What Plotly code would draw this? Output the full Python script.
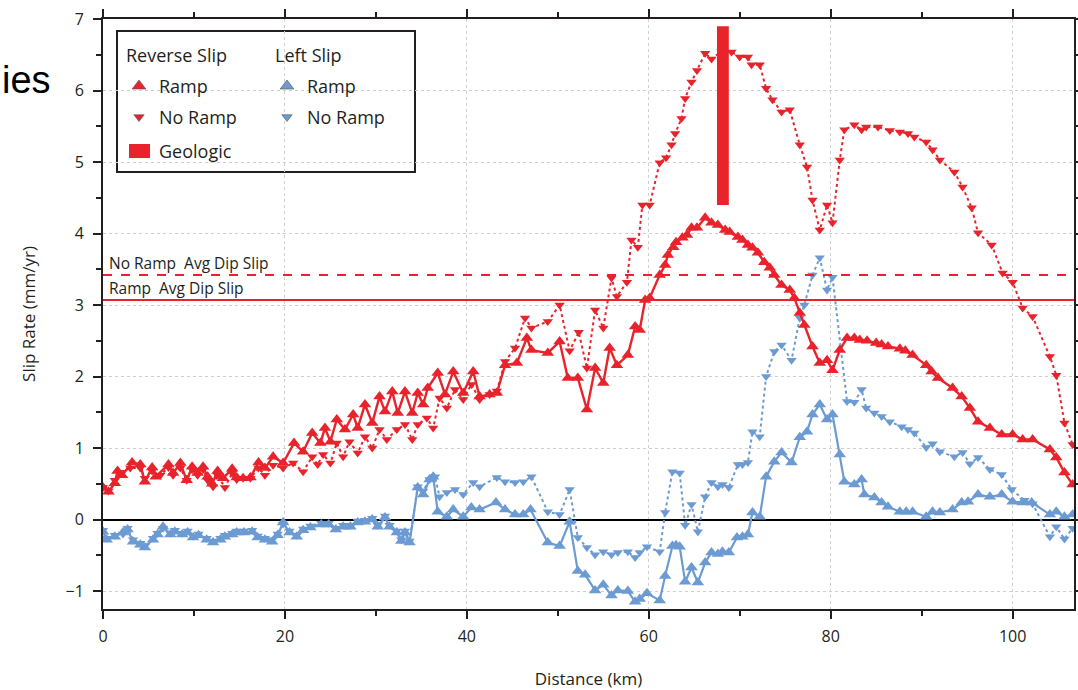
import plotly.graph_objects as go

# ---- Slip-rate profiles along strike (distance in km, rate in mm/yr) ----
# Reverse (dip) slip, model with ramp
rr_x = [
    0.0, 0.6, 1.3, 1.6, 2.1, 3.2, 4.1, 4.6, 5.4, 5.8,
    7.2, 7.7, 8.5, 9.2, 9.8, 10.4, 11.0, 11.5, 12.0, 12.6,
    13.2, 14.2, 14.7, 15.4, 16.2, 17.1, 17.8, 18.7, 19.8, 21.0,
    22.0, 23.0, 23.9, 24.4, 25.0, 25.7, 26.6, 27.5, 28.0, 28.8,
    29.6, 30.4, 31.0, 31.8, 32.4, 33.2, 34.0, 34.6, 35.2, 35.7,
    36.8, 37.6, 38.5, 39.6, 40.7, 41.4, 42.5, 43.3, 44.2, 45.5,
    46.6, 47.1, 48.9, 50.2, 51.1, 52.2, 53.2, 54.1, 55.0, 55.7,
    56.5, 57.7, 58.5, 59.0, 59.6, 60.1, 61.2, 61.8, 62.1, 62.7,
    63.0, 63.7, 64.2, 64.7, 65.3, 66.2, 66.9, 67.6, 68.4, 68.9,
    69.8, 70.3, 70.9, 71.4, 72.0, 72.7, 73.3, 73.8, 74.6, 75.5,
    76.0, 76.6, 77.1, 78.0, 78.8, 79.6, 80.2, 81.0, 81.8, 82.6,
    83.2, 84.0, 85.0, 85.6, 86.3, 87.6, 88.2, 89.0, 90.5, 91.1,
    91.8, 93.4, 94.4, 95.3, 96.2, 97.5, 98.8, 100.0, 101.1, 102.2,
    104.1, 104.8, 105.7, 106.6]
rr_y = [
    0.45, 0.39, 0.51, 0.68, 0.62, 0.80, 0.77, 0.53, 0.73, 0.60,
    0.77, 0.65, 0.79, 0.55, 0.74, 0.65, 0.74, 0.60, 0.50, 0.68,
    0.58, 0.71, 0.59, 0.58, 0.59, 0.80, 0.72, 0.88, 0.79, 1.07,
    0.95, 1.21, 1.07, 1.28, 1.09, 1.40, 1.26, 1.47, 1.28, 1.61,
    1.35, 1.72, 1.51, 1.79, 1.49, 1.79, 1.49, 1.77, 1.61, 1.84,
    2.05, 1.75, 2.07, 1.77, 2.07, 1.72, 1.75, 1.77, 2.16, 2.19,
    2.54, 2.37, 2.33, 2.49, 1.98, 1.98, 1.54, 2.12, 1.91, 2.40,
    2.16, 2.30, 2.70, 2.65, 3.07, 3.10, 3.42, 3.56, 3.70, 3.81,
    3.88, 3.94, 3.98, 4.08, 4.08, 4.22, 4.15, 4.12, 4.05, 4.02,
    3.95, 3.91, 3.84, 3.80, 3.73, 3.60, 3.52, 3.42, 3.28, 3.21,
    3.10, 2.89, 2.72, 2.42, 2.19, 2.23, 2.09, 2.37, 2.54, 2.54,
    2.51, 2.50, 2.47, 2.45, 2.42, 2.39, 2.36, 2.30, 2.16, 2.07,
    1.98, 1.84, 1.72, 1.56, 1.37, 1.28, 1.19, 1.19, 1.12, 1.12,
    0.98, 0.87, 0.66, 0.49]

# Reverse (dip) slip, model without ramp
rn_x = [
    0.0, 0.6, 1.3, 1.9, 3.0, 4.1, 4.6, 5.4, 6.3, 7.2,
    7.7, 8.5, 9.2, 9.8, 10.4, 11.0, 11.5, 12.1, 12.6, 13.4,
    14.2, 14.7, 15.4, 16.2, 17.1, 17.8, 18.7, 19.8, 20.9, 22.0,
    23.0, 23.6, 24.2, 25.0, 25.7, 26.4, 27.1, 28.0, 28.8, 29.6,
    30.4, 31.2, 32.3, 33.2, 34.0, 34.6, 35.6, 36.3, 37.0, 37.8,
    38.7, 39.6, 40.5, 41.4, 42.5, 43.3, 44.2, 45.3, 46.4, 47.1,
    48.9, 50.2, 51.3, 52.3, 53.2, 54.1, 55.0, 55.9, 56.5, 57.6,
    58.1, 58.8, 59.3, 60.1, 61.2, 61.9, 62.5, 62.9, 63.6, 64.0,
    64.7, 65.3, 66.2, 66.9, 68.0, 69.1, 70.0, 70.9, 71.3, 72.2,
    72.9, 73.6, 74.6, 75.5, 76.6, 77.4, 78.0, 78.8, 79.6, 80.2,
    81.0, 81.5, 82.6, 83.4, 83.9, 85.2, 86.5, 87.6, 88.5, 89.2,
    90.5, 91.2, 92.0, 93.6, 94.5, 95.5, 96.2, 97.7, 98.9, 100.0,
    101.1, 102.2, 104.1, 104.8, 105.7, 106.6]
rn_y = [
    0.45, 0.40, 0.55, 0.66, 0.72, 0.72, 0.58, 0.68, 0.62, 0.73,
    0.62, 0.72, 0.55, 0.70, 0.62, 0.70, 0.55, 0.46, 0.62, 0.45,
    0.65, 0.56, 0.58, 0.58, 0.72, 0.62, 0.76, 0.72, 0.79, 0.67,
    0.88, 0.77, 0.91, 0.79, 1.07, 0.88, 1.09, 0.93, 1.16, 1.00,
    1.26, 1.12, 1.26, 1.33, 1.12, 1.33, 1.42, 1.28, 1.70, 1.56,
    1.82, 1.68, 1.89, 1.68, 1.75, 1.80, 2.21, 2.40, 2.82, 2.68,
    2.77, 3.00, 2.36, 2.62, 2.12, 2.93, 2.68, 3.38, 3.12, 3.32,
    3.91, 3.81, 4.40, 4.40, 4.99, 5.06, 5.24, 5.40, 5.61, 5.89,
    6.12, 6.28, 6.52, 6.44, 6.55, 6.54, 6.47, 6.47, 6.36, 6.36,
    6.03, 5.87, 5.70, 5.73, 5.24, 4.93, 4.47, 4.05, 4.40, 4.15,
    5.03, 5.45, 5.52, 5.45, 5.49, 5.49, 5.44, 5.42, 5.40, 5.35,
    5.28, 5.17, 5.03, 4.86, 4.65, 4.36, 4.01, 3.84, 3.45, 3.32,
    2.96, 2.84, 2.28, 2.02, 1.35, 1.05]

# Left-lateral slip, model with ramp
br_x = [
    0.0, 0.4, 1.3, 2.2, 2.7, 3.3, 4.1, 4.6, 5.5, 6.0,
    6.6, 7.4, 7.9, 8.7, 9.3, 9.9, 10.5, 11.4, 12.1, 12.9,
    13.4, 14.2, 14.7, 15.5, 16.4, 17.0, 17.8, 18.6, 19.2, 19.8,
    20.5, 21.3, 22.0, 22.8, 24.0, 24.8, 25.6, 26.4, 27.2, 28.0,
    28.8, 29.6, 30.2, 31.0, 31.5, 32.3, 32.8, 33.2, 33.7, 34.6,
    35.2, 35.9, 36.3, 36.8, 37.8, 38.5, 39.6, 40.5, 41.4, 43.2,
    44.2, 45.3, 46.2, 47.0, 48.9, 50.2, 51.3, 52.2, 53.0, 54.1,
    55.0, 55.9, 56.6, 57.7, 58.5, 59.0, 59.8, 61.2, 61.8, 62.6,
    63.0, 63.4, 64.0, 64.7, 65.4, 66.2, 66.9, 67.6, 68.1, 68.8,
    69.7, 70.3, 70.9, 71.4, 72.2, 72.9, 73.8, 74.6, 75.7, 76.6,
    77.4, 78.0, 78.8, 79.6, 80.2, 81.0, 81.5, 82.6, 83.4, 83.7,
    84.8, 85.6, 86.3, 87.6, 88.3, 89.0, 90.5, 91.2, 92.0, 93.4,
    94.4, 95.1, 96.2, 97.5, 98.8, 100.0, 101.1, 102.1, 104.1, 104.8,
    105.7, 106.6]
br_y = [
    -0.17, -0.28, -0.24, -0.18, -0.14, -0.31, -0.35, -0.39, -0.28, -0.21,
    -0.10, -0.21, -0.17, -0.21, -0.18, -0.25, -0.22, -0.28, -0.32, -0.28,
    -0.24, -0.21, -0.18, -0.18, -0.17, -0.25, -0.28, -0.31, -0.22, -0.04,
    -0.18, -0.24, -0.15, -0.11, -0.07, -0.07, -0.14, -0.10, -0.10, -0.04,
    -0.03, 0.00, -0.10, 0.03, -0.10, -0.18, -0.30, -0.18, -0.32, 0.45,
    0.35, 0.56, 0.60, 0.11, 0.04, 0.14, 0.04, 0.17, 0.14, 0.24,
    0.14, 0.07, 0.07, 0.14, -0.32, -0.37, -0.03, -0.72, -0.77, -0.99,
    -0.91, -1.06, -0.99, -1.00, -1.15, -1.11, -1.03, -1.13, -0.79, -0.37,
    -0.36, -0.38, -0.87, -0.67, -0.88, -0.60, -0.46, -0.48, -0.45, -0.46,
    -0.25, -0.24, -0.21, 0.10, 0.04, 0.60, 0.81, 0.94, 0.80, 1.15,
    1.23, 1.47, 1.61, 1.40, 1.47, 0.91, 0.53, 0.49, 0.56, 0.35,
    0.31, 0.24, 0.18, 0.11, 0.11, 0.11, 0.04, 0.11, 0.10, 0.14,
    0.24, 0.25, 0.35, 0.32, 0.35, 0.25, 0.24, 0.24, 0.07, 0.11,
    0.04, 0.07]

# Left-lateral slip, model without ramp
bn_x = [
    0.0, 0.4, 1.3, 2.2, 2.7, 3.3, 4.1, 4.6, 5.5, 6.0,
    6.6, 7.4, 7.9, 8.7, 9.3, 9.9, 10.5, 11.4, 12.1, 12.9,
    13.4, 14.2, 14.7, 15.5, 16.4, 17.0, 17.8, 18.6, 19.2, 19.8,
    20.5, 21.3, 22.0, 22.8, 24.0, 24.8, 25.6, 26.4, 27.2, 28.0,
    28.8, 29.6, 30.2, 31.0, 31.5, 32.3, 32.8, 33.2, 33.7, 34.6,
    35.2, 35.9, 36.5, 37.0, 37.8, 38.7, 39.6, 40.7, 41.4, 43.3,
    44.2, 45.3, 46.2, 47.1, 48.9, 50.2, 51.3, 52.2, 53.2, 54.1,
    55.0, 55.9, 56.6, 57.7, 58.5, 59.0, 59.8, 61.2, 61.8, 62.6,
    63.4, 64.0, 64.7, 65.4, 66.2, 66.9, 67.6, 68.1, 68.8, 69.8,
    70.3, 70.9, 71.4, 72.2, 72.9, 73.8, 74.6, 75.7, 76.6, 77.1,
    78.0, 78.8, 79.6, 80.2, 81.8, 82.6, 83.4, 83.9, 84.8, 85.6,
    86.5, 87.8, 88.5, 89.2, 90.5, 91.2, 92.0, 93.6, 94.5, 95.3,
    96.2, 97.5, 98.8, 99.9, 101.3, 102.2, 104.1, 104.8, 105.7, 106.6]
bn_y = [
    -0.15, -0.26, -0.22, -0.20, -0.12, -0.28, -0.33, -0.37, -0.26, -0.19,
    -0.12, -0.19, -0.15, -0.19, -0.16, -0.23, -0.20, -0.26, -0.30, -0.26,
    -0.22, -0.19, -0.16, -0.16, -0.15, -0.23, -0.26, -0.28, -0.20, -0.06,
    -0.16, -0.22, -0.13, -0.09, -0.05, -0.05, -0.12, -0.08, -0.08, -0.02,
    -0.01, 0.02, -0.08, 0.05, -0.08, -0.16, -0.28, -0.16, -0.30, 0.46,
    0.40, 0.56, 0.60, 0.32, 0.38, 0.42, 0.35, 0.52, 0.46, 0.59,
    0.53, 0.52, 0.53, 0.60, 0.11, 0.07, 0.42, -0.25, -0.39, -0.49,
    -0.45, -0.49, -0.46, -0.45, -0.53, -0.46, -0.38, -0.45, 0.10, 0.67,
    0.65, -0.08, 0.21, -0.17, 0.32, 0.52, 0.46, 0.49, 0.45, 0.77,
    0.77, 0.80, 1.23, 1.16, 2.00, 2.35, 2.44, 2.23, 2.82, 3.00,
    3.42, 3.66, 3.21, 3.39, 1.65, 1.64, 1.82, 1.56, 1.49, 1.44,
    1.37, 1.30, 1.26, 1.21, 1.01, 1.06, 0.95, 0.88, 0.94, 0.78,
    0.87, 0.70, 0.63, 0.42, 0.27, 0.22, -0.24, -0.10, -0.27, -0.12]

# Average dip-slip rates and the geologic estimate
avg_dip_noramp = 3.42
avg_dip_ramp = 3.07
geo_x = 68.15
geo_halfwidth = 0.65
geo_min, geo_max = 4.4, 6.9

RED = "#E8232B"
BLUE = "#6B9BD2"
INK = "#231F20"
FONT = "Open Sans"

fig = go.Figure()

# Left-slip profiles (drawn first, underneath)
fig.add_trace(go.Scatter(
    x=bn_x, y=bn_y, mode="lines+markers",
    line=dict(color=BLUE, width=2, dash="dot"),
    marker=dict(symbol="triangle-down", size=9, color=BLUE),
    showlegend=False))
fig.add_trace(go.Scatter(
    x=br_x, y=br_y, mode="lines+markers",
    line=dict(color=BLUE, width=2.2),
    marker=dict(symbol="triangle-up", size=11, color=BLUE),
    showlegend=False))

# Reverse-slip profiles
fig.add_trace(go.Scatter(
    x=rn_x, y=rn_y, mode="lines+markers",
    line=dict(color=RED, width=2, dash="dot"),
    marker=dict(symbol="triangle-down", size=9, color=RED),
    showlegend=False))
fig.add_trace(go.Scatter(
    x=rr_x, y=rr_y, mode="lines+markers",
    line=dict(color=RED, width=2.4),
    marker=dict(symbol="triangle-up", size=11, color=RED),
    showlegend=False))

# Average dip-slip reference lines
fig.add_hline(y=avg_dip_noramp, line=dict(color=RED, width=2, dash="dash"))
fig.add_hline(y=avg_dip_ramp, line=dict(color=RED, width=2))
fig.add_annotation(x=0.4, y=avg_dip_noramp, xref="x", yref="y",
                   text="No Ramp\u00a0 Avg Dip Slip",
                   showarrow=False, xanchor="left", yanchor="bottom", yshift=-1,
                   font=dict(family=FONT, size=15.5, color=INK))
fig.add_annotation(x=0.4, y=avg_dip_ramp, xref="x", yref="y",
                   text="Ramp\u00a0 Avg Dip Slip",
                   showarrow=False, xanchor="left", yanchor="bottom", yshift=-1,
                   font=dict(family=FONT, size=15.5, color=INK))

# Geologic slip-rate range
fig.add_shape(type="rect", xref="x", yref="y",
              x0=geo_x - geo_halfwidth, x1=geo_x + geo_halfwidth,
              y0=geo_min, y1=geo_max, fillcolor=RED, line_width=0, layer="above")

# ---- Hand-built two-column legend ----
L, R, T, B = 103, 1074, 19, 609          # plot area in pixels
def fx(px):
    return (px - L) / (R - L)
def fy(py):
    return (B - py) / (B - T)

fig.add_shape(type="rect", xref="paper", yref="paper",
              x0=fx(117), x1=fx(415), y0=fy(172), y1=fy(31),
              line=dict(color=INK, width=2), fillcolor="white", layer="between")

legend_marks = [
    (fx(139), fy(86), "triangle-up", 12, RED),
    (fx(139), fy(117), "triangle-down", 9, RED),
    (fx(287), fy(86), "triangle-up", 12, BLUE),
    (fx(287), fy(117), "triangle-down", 9, BLUE),
]
for mx, my, sym, sz, col in legend_marks:
    fig.add_trace(go.Scatter(x=[mx], y=[my], xaxis="x2", yaxis="y2", mode="markers",
                             marker=dict(symbol=sym, size=sz, color=col,
                                         line=dict(color="#555555", width=0.6)),
                             showlegend=False, hoverinfo="skip"))

fig.add_shape(type="rect", xref="paper", yref="paper",
              x0=fx(129), x1=fx(150), y0=fy(158), y1=fy(144),
              fillcolor=RED, line_width=0, layer="above")

legend_texts = [
    (fx(124), fy(55), "Reverse Slip"),
    (fx(273), fy(55), "Left Slip"),
    (fx(157), fy(86), "Ramp"),
    (fx(157), fy(117), "No Ramp"),
    (fx(157), fy(151), "Geologic"),
    (fx(305), fy(86), "Ramp"),
    (fx(305), fy(117), "No Ramp"),
]
for tx, ty, txt in legend_texts:
    fig.add_annotation(x=tx, y=ty, xref="paper", yref="paper", text=txt,
                       showarrow=False, xanchor="left", yanchor="middle",
                       font=dict(family=FONT, size=18, color=INK))

# Fragment of a larger heading that sits beside the panel
fig.add_annotation(x=fx(0), y=fy(80), xref="paper", yref="paper", text="ies",
                   showarrow=False, xanchor="left", yanchor="middle",
                   font=dict(family="Liberation Sans", size=38, color="black"))

axis_common = dict(
    ticks="outside", ticklen=8, tickwidth=1.5, tickcolor=INK,
    showline=True, linecolor=INK, linewidth=2, mirror="allticks",
    showgrid=True, gridcolor="#CFCFCF", griddash="dot", gridwidth=1,
    tickfont=dict(family=FONT, size=16, color=INK),
)

fig.update_layout(
    width=1078, height=690, autosize=False,
    margin=dict(l=L, r=1078 - R, t=T, b=690 - B, autoexpand=False),
    paper_bgcolor="white", plot_bgcolor="white",
    font=dict(family=FONT, color=INK),
    xaxis=dict(range=[0, 106.75], tick0=0, dtick=20, zeroline=False,
               ticklabelstandoff=4,
               minor=dict(dtick=10, ticks="outside", ticklen=5, tickcolor=INK, showgrid=False),
               title=dict(text="Distance (km)", font=dict(family=FONT, size=17, color=INK), standoff=28),
               **axis_common),
    yaxis=dict(range=[-1.25, 7], tick0=0, dtick=1, ticklabelstandoff=6,
               zeroline=True, zerolinecolor="black", zerolinewidth=2,
               minor=dict(dtick=0.5, ticks="outside", ticklen=5, tickcolor=INK, showgrid=False),
               title=dict(text="Slip Rate (mm/yr)", font=dict(family=FONT, size=17, color=INK), standoff=26),
               **axis_common),
    xaxis2=dict(overlaying="x", anchor="y2", range=[0, 1], visible=False),
    yaxis2=dict(overlaying="y", anchor="x2", range=[0, 1], visible=False),
    showlegend=False,
)

fig.write_html("out.html", config={"responsive": False})
